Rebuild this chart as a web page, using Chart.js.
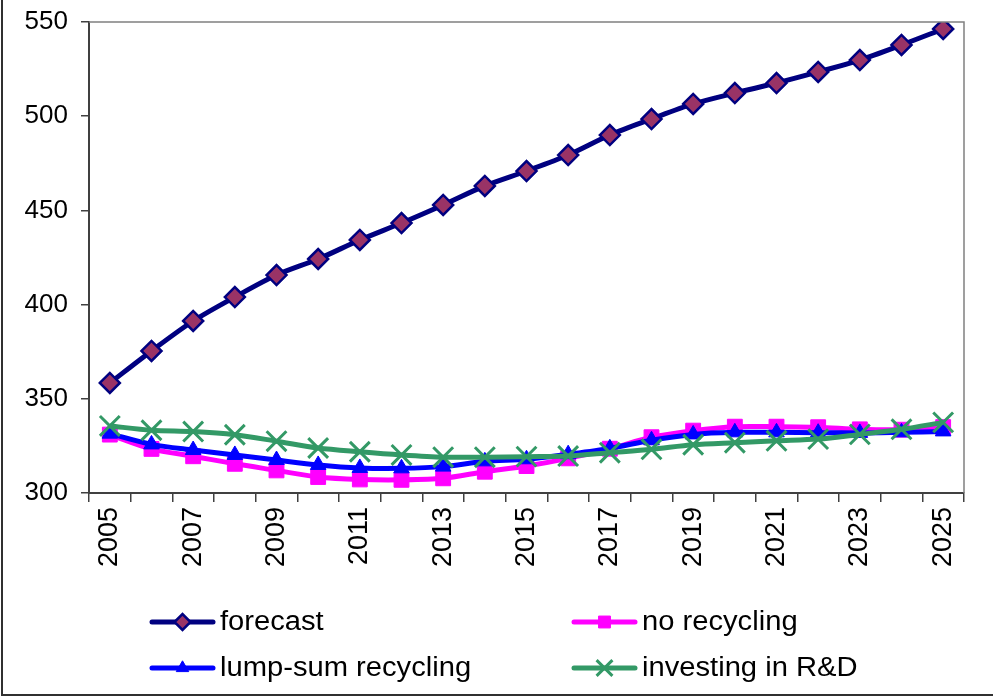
<!DOCTYPE html>
<html>
<head>
<meta charset="utf-8">
<script src="https://cdn.jsdelivr.net/npm/chart.js@4.4.1/dist/chart.umd.min.js"></script>
<style>
  html, body { margin: 0; padding: 0; background: #fff; }
  #wrap { width: 993px; height: 697px; position: relative; }
</style>
</head>
<body>
<div id="wrap"><canvas id="c" width="993" height="697"></canvas></div>
<script>
const years = ['2005','2006','2007','2008','2009','2010','2011','2012','2013','2014','2015',
               '2016','2017','2018','2019','2020','2021','2022','2023','2024','2025'];
const yTicks = [300, 350, 400, 450, 500, 550];

const forecast = [358.4, 375.4, 391.3, 404.0, 415.7, 424.2, 434.3, 443.3, 452.9, 463.0, 470.9,
                  479.4, 490.0, 498.5, 506.5, 512.3, 517.6, 523.5, 529.8, 537.8, 546.3];
const noRecycling = [331.0, 323.4, 319.5, 315.5, 312.0, 308.5, 307.2, 307.0, 307.8, 311.3, 314.3,
                     318.4, 323.5, 329.6, 333.1, 335.2, 335.2, 334.9, 333.8, 333.6, 335.0];
const lumpSum = [331.5, 325.8, 322.8, 320.2, 317.5, 314.9, 313.3, 313.1, 314.0, 316.8, 317.9,
                 320.6, 323.7, 328.0, 331.1, 332.2, 332.2, 332.0, 331.9, 332.2, 332.7];
const investing = [335.6, 333.3, 332.6, 330.9, 327.5, 323.9, 321.9, 320.2, 319.0, 319.0, 319.3,
                   319.6, 321.4, 323.2, 325.6, 326.7, 327.7, 328.6, 331.1, 333.8, 337.5];

const FONT = '"Liberation Sans", Arial, sans-serif';

// Frame lines, plot-area edges and the two-column legend
const decorations = {
  id: 'decorations',
  afterDraw(chart) {
    const ctx = chart.ctx;
    const a = chart.chartArea;
    ctx.save();
    // grey top and right edges of the plot area
    ctx.strokeStyle = '#808080';
    ctx.lineWidth = 1.5;
    ctx.beginPath();
    ctx.moveTo(a.left, a.top);
    ctx.lineTo(a.right, a.top);
    ctx.lineTo(a.right, a.bottom);
    ctx.stroke();
    // outer frame (left and bottom)
    ctx.strokeStyle = '#303030';
    ctx.lineWidth = 2;
    ctx.beginPath();
    ctx.moveTo(2, 0);
    ctx.lineTo(2, 695);
    ctx.lineTo(993, 695);
    ctx.stroke();

    // legend
    const cols = [152, 574];
    const rows = [622, 668];
    chart.data.datasets.forEach((ds, i) => {
      const x = cols[i % 2];
      const y = rows[Math.floor(i / 2)];
      ctx.strokeStyle = ds.borderColor;
      ctx.lineWidth = ds.borderWidth;
      ctx.lineCap = 'round';
      ctx.beginPath();
      ctx.moveTo(x, y);
      ctx.lineTo(x + 61, y);
      ctx.stroke();
      ctx.lineCap = 'butt';
      ctx.fillStyle = ds.pointBackgroundColor;
      ctx.strokeStyle = ds.pointBorderColor;
      ctx.lineWidth = ds.pointBorderWidth;
      Chart.helpers.drawPoint(ctx, {
        pointStyle: ds.pointStyle,
        radius: ds.pointRadius * 0.8,
        rotation: 0,
        borderWidth: ds.pointBorderWidth
      }, x + 30.5, y);
      ctx.fillStyle = '#000';
      ctx.font = '27px ' + FONT;
      ctx.textAlign = 'left';
      ctx.textBaseline = 'middle';
      ctx.save();
      ctx.translate(x + 68, y + 1);
      ctx.scale(1.08, 1);
      ctx.fillText(ds.label, 0, 0);
      ctx.restore();
    });
    ctx.restore();
  }
};

const common = { fill: false, borderWidth: 5, tension: 0.3 };

new Chart(document.getElementById('c'), {
  type: 'line',
  data: {
    labels: years,
    datasets: [
      Object.assign({}, common, {
        label: 'forecast', data: forecast, order: 3,
        borderColor: '#000080', pointStyle: 'rectRot', pointRadius: 10,
        pointBackgroundColor: '#993366', pointBorderColor: '#000080', pointBorderWidth: 2.5
      }),
      Object.assign({}, common, {
        label: 'no recycling', data: noRecycling, order: 2,
        borderColor: '#FF00FF', pointStyle: 'rect', pointRadius: 10.5,
        pointBackgroundColor: '#FF00FF', pointBorderColor: '#FF00FF', pointBorderWidth: 1
      }),
      Object.assign({}, common, {
        label: 'lump-sum recycling', data: lumpSum, order: 1,
        borderColor: '#0000FF', pointStyle: 'triangle', pointRadius: 9,
        pointBackgroundColor: '#0000FF', pointBorderColor: '#0000FF', pointBorderWidth: 1
      }),
      Object.assign({}, common, {
        label: 'investing in R&D', data: investing, order: 0,
        borderColor: '#339966', pointStyle: 'crossRot', pointRadius: 14,
        pointBackgroundColor: '#339966', pointBorderColor: '#339966', pointBorderWidth: 3
      })
    ]
  },
  options: {
    responsive: false,
    animation: false,
    devicePixelRatio: 1,
    layout: { padding: { top: 22, right: 29, left: 0, bottom: 0 } },
    plugins: { legend: { display: false }, tooltip: { enabled: false } },
    scales: {
      x: {
        type: 'category',
        offset: true,
        afterFit(s) { s.height = 697 - 22 - 471; s.paddingLeft = 0; s.paddingRight = 0; },
        grid: { offset: true, drawOnChartArea: false, drawTicks: true, tickLength: 9, color: '#404040', lineWidth: 1.5 },
        border: { color: '#404040', width: 2 },
        ticks: {
          autoSkip: false, maxRotation: 90, minRotation: 90, padding: 5,
          color: '#000', font: { family: FONT, size: 27 },
          callback(v, i) { return i % 2 === 0 ? years[i] : ''; }
        }
      },
      y: {
        min: yTicks[0], max: yTicks[yTicks.length - 1],
        afterFit(s) { s.width = 89; s.paddingTop = 0; s.paddingBottom = 0; },
        afterBuildTicks(s) { s.ticks = yTicks.map(v => ({ value: v })); },
        grid: { drawOnChartArea: false, drawTicks: true, tickLength: 8, color: '#404040', lineWidth: 1.5 },
        border: { color: '#404040', width: 2 },
        ticks: { padding: 13, color: '#000', font: { family: FONT, size: 26 } }
      }
    }
  },
  plugins: [decorations]
});
</script>
</body>
</html>
